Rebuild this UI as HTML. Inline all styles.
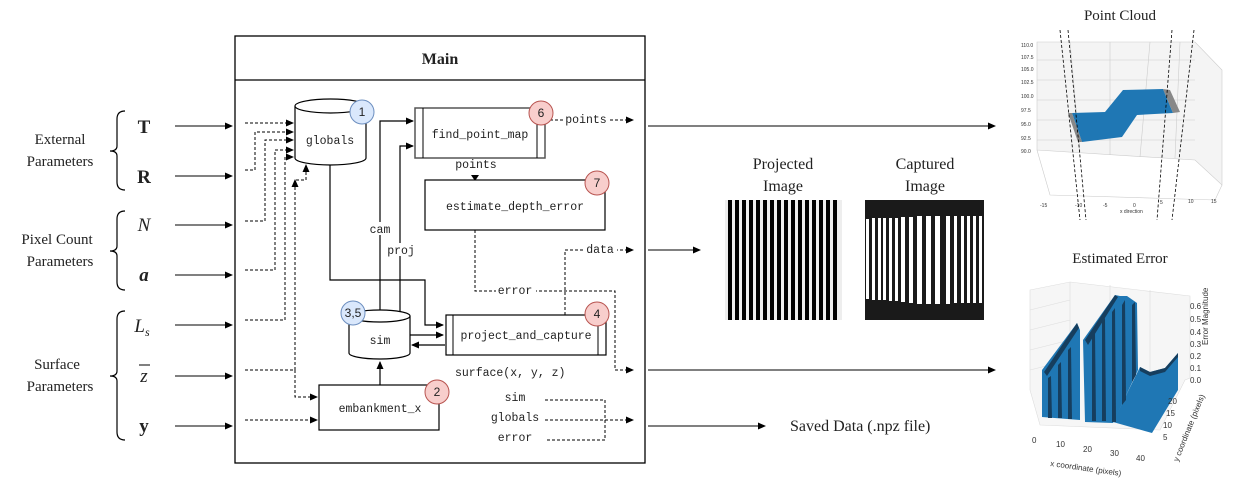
<!DOCTYPE html>
<html><head><meta charset="utf-8"><style>
html,body{margin:0;padding:0;background:#fff;}
svg{display:block;}
.m{font-family:"Liberation Mono",monospace;font-size:11.5px;fill:#222;}
.s{font-family:"Liberation Serif",serif;fill:#222;}
.sm{font-family:"Liberation Sans",sans-serif;font-size:5px;fill:#333;}
.ax{font-family:"Liberation Sans",sans-serif;font-size:8px;fill:#333;}
</style></head><body>
<svg width="1236" height="478" viewBox="0 0 1236 478" xmlns="http://www.w3.org/2000/svg">
<defs>
<marker id="a" markerWidth="8" markerHeight="8" refX="7" refY="4" orient="auto" markerUnits="userSpaceOnUse"><path d="M0,0.5 L8,4 L0,7.5 z" fill="#000"/></marker>
</defs>
<g class="s" font-size="15" text-anchor="middle">
<text x="60" y="144">External</text><text x="60" y="166">Parameters</text>
<text x="57" y="244">Pixel  Count</text><text x="60" y="266">Parameters</text>
<text x="57" y="369">Surface</text><text x="60" y="391">Parameters</text>
</g>
<g fill="none" stroke="#000" stroke-width="1.2">
<path d="M125,111 Q117,111 117,119 L117,146 Q117,151 110,151 Q117,151 117,156 L117,182 Q117,190 125,190"/>
<path d="M125,211 Q117,211 117,219 L117,246 Q117,251 110,251 Q117,251 117,256 L117,282 Q117,290 125,290"/>
<path d="M125,311 Q117,311 117,319 L117,371 Q117,376 110,376 Q117,376 117,381 L117,432 Q117,440 125,440"/>
</g>
<g class="s" font-size="19" text-anchor="middle">
<text x="144" y="133" font-weight="bold">T</text>
<text x="144" y="183" font-weight="bold">R</text>
<text x="144" y="231" font-style="italic">N</text>
<text x="144" y="281" font-style="italic" font-weight="bold">a</text>
<text x="142" y="332" font-style="italic">L<tspan font-size="12" dy="4">s</tspan></text>
<text x="144" y="382" font-style="italic">z</text>
<text x="144" y="432" font-weight="bold">y</text>
</g>
<line x1="139" y1="365" x2="150" y2="365" stroke="#000" stroke-width="1"/>
<g stroke="#000" stroke-width="1" marker-end="url(#a)">
<line x1="175" y1="126" x2="232" y2="126"/><line x1="175" y1="176" x2="232" y2="176"/>
<line x1="175" y1="225" x2="232" y2="225"/><line x1="175" y1="275" x2="232" y2="275"/>
<line x1="175" y1="325" x2="232" y2="325"/><line x1="175" y1="376" x2="232" y2="376"/>
<line x1="175" y1="426" x2="232" y2="426"/>
</g>
<rect x="235" y="36" width="410" height="427" fill="#fff" stroke="#000" stroke-width="1.3"/>
<line x1="235" y1="80" x2="645" y2="80" stroke="#000" stroke-width="1.3"/>
<text x="440" y="64" class="s" font-size="16" font-weight="bold" text-anchor="middle">Main</text>
<g fill="none" stroke="#000" stroke-width="1" stroke-dasharray="3,2" marker-end="url(#a)">
<path d="M245,123 L293,123"/>
<path d="M245,170 L255,170 L255,132 L293,132"/>
<path d="M245,221 L265,221 L265,140 L293,140"/>
<path d="M245,270 L275,270 L275,150 L293,150"/>
<path d="M245,320 L285,320 L285,157 L293,157"/>
<path d="M296,180 L306,180 L306,165"/>
<path d="M245,370 L295,370 L295,180"/>
<path d="M295,370 L295,397 L317,397"/>
<path d="M245,420 L317,420"/>
<path d="M545,120 L633,120"/>
<path d="M475,230 L475,291 L615,291 L615,370 L633,370"/>
<path d="M565,315 L565,250 L633,250"/>
<path d="M545,400 L605,400 L605,440 L545,440 M545,420 L633,420"/>
</g>
<g fill="none" stroke="#000" stroke-width="1.2" marker-end="url(#a)">
<path d="M330,165 L330,280 L425,280 L425,325 L443,325"/>
<path d="M380,312 L380,121 L413,121"/>
<path d="M400,312 L400,146 L413,146"/>
<path d="M410,335 L443,335"/>
<path d="M445,345 L412,345"/>
<path d="M380,385 L380,362"/>
</g>
<path d="M471,175 L479,175 L475,181 z" fill="#000"/>
<path d="M295,106 L295,158 A35.5,7 0 0 0 366,158 L366,106" fill="#fff" stroke="#000" stroke-width="1.2"/>
<ellipse cx="330.5" cy="106" rx="35.5" ry="7" fill="#fff" stroke="#000" stroke-width="1.2"/>
<text x="330" y="144" class="m" text-anchor="middle">globals</text>
<path d="M349,316 L349,353 A30.5,6 0 0 0 410,353 L410,316" fill="#fff" stroke="#000" stroke-width="1.2"/>
<ellipse cx="379.5" cy="316" rx="30.5" ry="6" fill="#fff" stroke="#000" stroke-width="1.2"/>
<text x="380" y="344" class="m" text-anchor="middle">sim</text>
<rect x="415" y="108" width="130" height="50" fill="#fff" stroke="#555" stroke-width="1.5"/>
<line x1="423" y1="108" x2="423" y2="158" stroke="#000"/><line x1="537" y1="108" x2="537" y2="158" stroke="#000"/>
<text x="480" y="138" class="m" text-anchor="middle">find_point_map</text>
<rect x="425" y="180" width="180" height="50" fill="#fff" stroke="#000" stroke-width="1.2"/>
<text x="515" y="210" class="m" text-anchor="middle">estimate_depth_error</text>
<rect x="446" y="315" width="160" height="40" fill="#fff" stroke="#000" stroke-width="1.2"/>
<line x1="453" y1="315" x2="453" y2="355" stroke="#000"/><line x1="598" y1="315" x2="598" y2="355" stroke="#000"/>
<text x="526" y="339" class="m" text-anchor="middle">project_and_capture</text>
<rect x="319" y="385" width="120" height="45" fill="#fff" stroke="#000" stroke-width="1.2"/>
<text x="380" y="412" class="m" text-anchor="middle">embankment_x</text>
<g class="m">
<rect x="563" y="113" width="46" height="12" fill="#fff"/>
<text x="586" y="123" text-anchor="middle">points</text>
<text x="476" y="168" text-anchor="middle">points</text>
<rect x="366" y="222" width="28" height="13" fill="#fff"/>
<text x="380" y="233" text-anchor="middle">cam</text>
<rect x="386" y="243" width="30" height="13" fill="#fff"/>
<text x="401" y="254" text-anchor="middle">proj</text>
<rect x="496" y="285" width="40" height="12" fill="#fff"/>
<text x="515" y="294" text-anchor="middle">error</text>
<rect x="583" y="244" width="34" height="12" fill="#fff"/>
<text x="600" y="253" text-anchor="middle">data</text>
<text x="455" y="376">surface(x, y, z)</text>
<text x="515" y="401" text-anchor="middle">sim</text>
<text x="515" y="421" text-anchor="middle">globals</text>
<text x="515" y="441" text-anchor="middle">error</text>
</g>
<g font-family="Liberation Sans,sans-serif" font-size="12" text-anchor="middle" fill="#222">
<circle cx="362" cy="112" r="12" fill="#dae8fc" stroke="#6c8ebf"/><text x="362" y="116">1</text>
<circle cx="541" cy="113" r="12" fill="#f8cecc" stroke="#b85450"/><text x="541" y="117">6</text>
<circle cx="597" cy="183" r="12" fill="#f8cecc" stroke="#b85450"/><text x="597" y="187">7</text>
<circle cx="597" cy="314" r="12" fill="#f8cecc" stroke="#b85450"/><text x="597" y="318">4</text>
<circle cx="353" cy="313" r="12" fill="#dae8fc" stroke="#6c8ebf"/><text x="353" y="317">3,5</text>
<circle cx="437" cy="392" r="12" fill="#f8cecc" stroke="#b85450"/><text x="437" y="396">2</text>
</g>
<g stroke="#000" stroke-width="1" marker-end="url(#a)">
<line x1="648" y1="126" x2="995" y2="126"/>
<line x1="648" y1="250" x2="700" y2="250"/>
<line x1="648" y1="370" x2="995" y2="370"/>
<line x1="648" y1="426" x2="765" y2="426"/>
</g>
<text x="790" y="431" class="s" font-size="16">Saved Data (.npz file)</text>
<g class="s" font-size="16" text-anchor="middle">
<text x="783" y="169">Projected</text><text x="783" y="191">Image</text>
<text x="925" y="169">Captured</text><text x="925" y="191">Image</text>
</g>
<rect x="725" y="200" width="117" height="120" fill="#eee"/>
<g fill="#000">
<rect x="728" y="200" width="4" height="120"/><rect x="735" y="200" width="4" height="120"/><rect x="742" y="200" width="4" height="120"/><rect x="749" y="200" width="4" height="120"/><rect x="756" y="200" width="4" height="120"/><rect x="763" y="200" width="4" height="120"/><rect x="770" y="200" width="4" height="120"/><rect x="777" y="200" width="4" height="120"/><rect x="784" y="200" width="4" height="120"/><rect x="791" y="200" width="4" height="120"/><rect x="798" y="200" width="4" height="120"/><rect x="805" y="200" width="4" height="120"/><rect x="812" y="200" width="4" height="120"/><rect x="819" y="200" width="4" height="120"/><rect x="826" y="200" width="4" height="120"/><rect x="833" y="200" width="4" height="120"/>
</g>
<rect x="865" y="200" width="119" height="120" fill="#1a1a1a"/>
<g fill="#fff">
<rect x="866" y="219" width="3" height="80"/><rect x="872" y="218" width="3" height="82"/><rect x="878" y="218" width="3" height="82"/><rect x="883" y="218" width="3" height="82"/><rect x="889" y="218" width="3" height="83"/><rect x="895" y="218" width="3" height="83"/><rect x="901" y="217" width="4" height="85"/><rect x="909" y="217" width="4" height="86"/><rect x="917" y="216" width="5" height="88"/><rect x="926" y="216" width="5" height="88"/><rect x="935" y="216" width="5" height="88"/><rect x="946" y="216" width="4" height="88"/><rect x="954" y="216" width="3" height="87"/><rect x="961" y="216" width="3" height="87"/><rect x="967" y="216" width="3" height="87"/><rect x="973" y="216" width="3" height="87"/><rect x="979" y="216" width="3" height="87"/>
</g>
<text x="1120" y="20" class="s" font-size="15" text-anchor="middle">Point Cloud</text>
<g stroke="#ccc" stroke-width="0.6" fill="none">
<path d="M1037,42 L1195,42 L1222,70 L1222,185 L1195,160 L1037,150 Z" fill="#f4f4f4"/>
<path d="M1037,150 L1050,195 L1215,200 L1222,185"/>
<path d="M1037,60 L1195,60 M1037,80 L1195,80 M1037,100 L1195,100 M1037,120 L1195,120 M1037,140 L1195,140"/>
<path d="M1070,42 L1080,152 M1110,42 L1110,155 M1150,42 L1140,157 M1180,42 L1175,158"/>
</g>
<polygon points="1072,113 1105,112 1123,90 1163,89 1173,113 1137,115 1122,137 1082,142" fill="#1f77b4"/>
<polygon points="1068,113 1072,113 1082,142 1078,142" fill="#888"/>
<polygon points="1163,89 1170,90 1180,112 1173,113" fill="#888"/>
<g stroke="#000" stroke-width="0.8" stroke-dasharray="3,2">
<line x1="1060" y1="30" x2="1080" y2="220"/><line x1="1068" y1="30" x2="1086" y2="220"/>
<line x1="1172" y1="30" x2="1157" y2="220"/><line x1="1194" y1="30" x2="1172" y2="220"/>
</g>
<g class="sm">
<text x="1021" y="47">110.0</text><text x="1021" y="59">107.5</text><text x="1021" y="71">105.0</text><text x="1021" y="84">102.5</text><text x="1021" y="98">100.0</text><text x="1021" y="112">97.5</text><text x="1021" y="126">95.0</text><text x="1021" y="140">92.5</text><text x="1021" y="153">90.0</text>
<text x="1040" y="207">-15</text><text x="1075" y="207">-10</text><text x="1103" y="207">-5</text><text x="1133" y="207">0</text><text x="1160" y="204">5</text><text x="1188" y="203">10</text><text x="1211" y="203">15</text>
<text x="1120" y="213">x direction</text>
</g>
<text x="1120" y="263" class="s" font-size="15" text-anchor="middle">Estimated Error</text>
<g stroke="#ddd" stroke-width="0.6" fill="none">
<path d="M1030,290 L1070,282 L1190,296 L1190,378 L1185,380 L1160,430 L1040,425 L1030,390 Z" fill="#f6f6f6"/>
<path d="M1030,310 L1070,300 M1030,330 L1070,320 M1030,350 L1070,340 M1030,370 L1070,360 M1070,282 L1070,410 M1110,285 L1110,415 M1150,290 L1150,420"/>
</g>
<polygon points="1042,370 1077,323 1080,330 1080,420 1042,417" fill="#1f77b4"/>
<polygon points="1083,340 1115,295 1120,296 1127,296 1137,303 1138,370 1113,423 1085,422" fill="#1f77b4"/>
<polygon points="1113,422 1140,367 1150,372 1165,368 1178,353 1178,390 1152,433" fill="#1f77b4"/>
<g fill="#163e5e">
<polygon points="1044,372 1077,323 1079,328 1047,376"/>
<polygon points="1048,378 1051,376 1052,418 1048,418"/>
<polygon points="1058,365 1061,362 1062,418 1058,418"/>
<polygon points="1068,350 1071,347 1072,419 1068,419"/>
<polygon points="1085,340 1115,295 1118,297 1088,345"/>
<polygon points="1092,335 1095,332 1096,421 1092,421"/>
<polygon points="1102,322 1105,318 1106,421 1102,421"/>
<polygon points="1112,312 1115,308 1116,422 1112,422"/>
<polygon points="1122,305 1125,300 1126,400 1122,405"/>
<polygon points="1132,305 1135,302 1136,375 1132,382"/>
<polygon points="1140,367 1150,372 1165,368 1178,353 1178,357 1165,372 1150,376 1140,371"/>
</g>
<g class="ax">
<text x="1190" y="309">0.6</text><text x="1190" y="322">0.5</text><text x="1190" y="335">0.4</text><text x="1190" y="347">0.3</text><text x="1190" y="359">0.2</text><text x="1190" y="371">0.1</text><text x="1190" y="383">0.0</text>
<text x="1032" y="443">0</text><text x="1056" y="447">10</text><text x="1083" y="452">20</text><text x="1110" y="456">30</text><text x="1136" y="461">40</text>
<text x="1050" y="466" transform="rotate(8 1050 466)">x coordinate (pixels)</text>
<text x="1208" y="345" transform="rotate(-90 1208 345)">Error Magnitude</text>
<text x="1178" y="462" transform="rotate(-68 1178 462)">y coordinate (pixels)</text>
<text x="1163" y="440">5</text><text x="1163" y="428">10</text><text x="1166" y="416">15</text><text x="1168" y="404">20</text>
</g>
</svg>
</body></html>
